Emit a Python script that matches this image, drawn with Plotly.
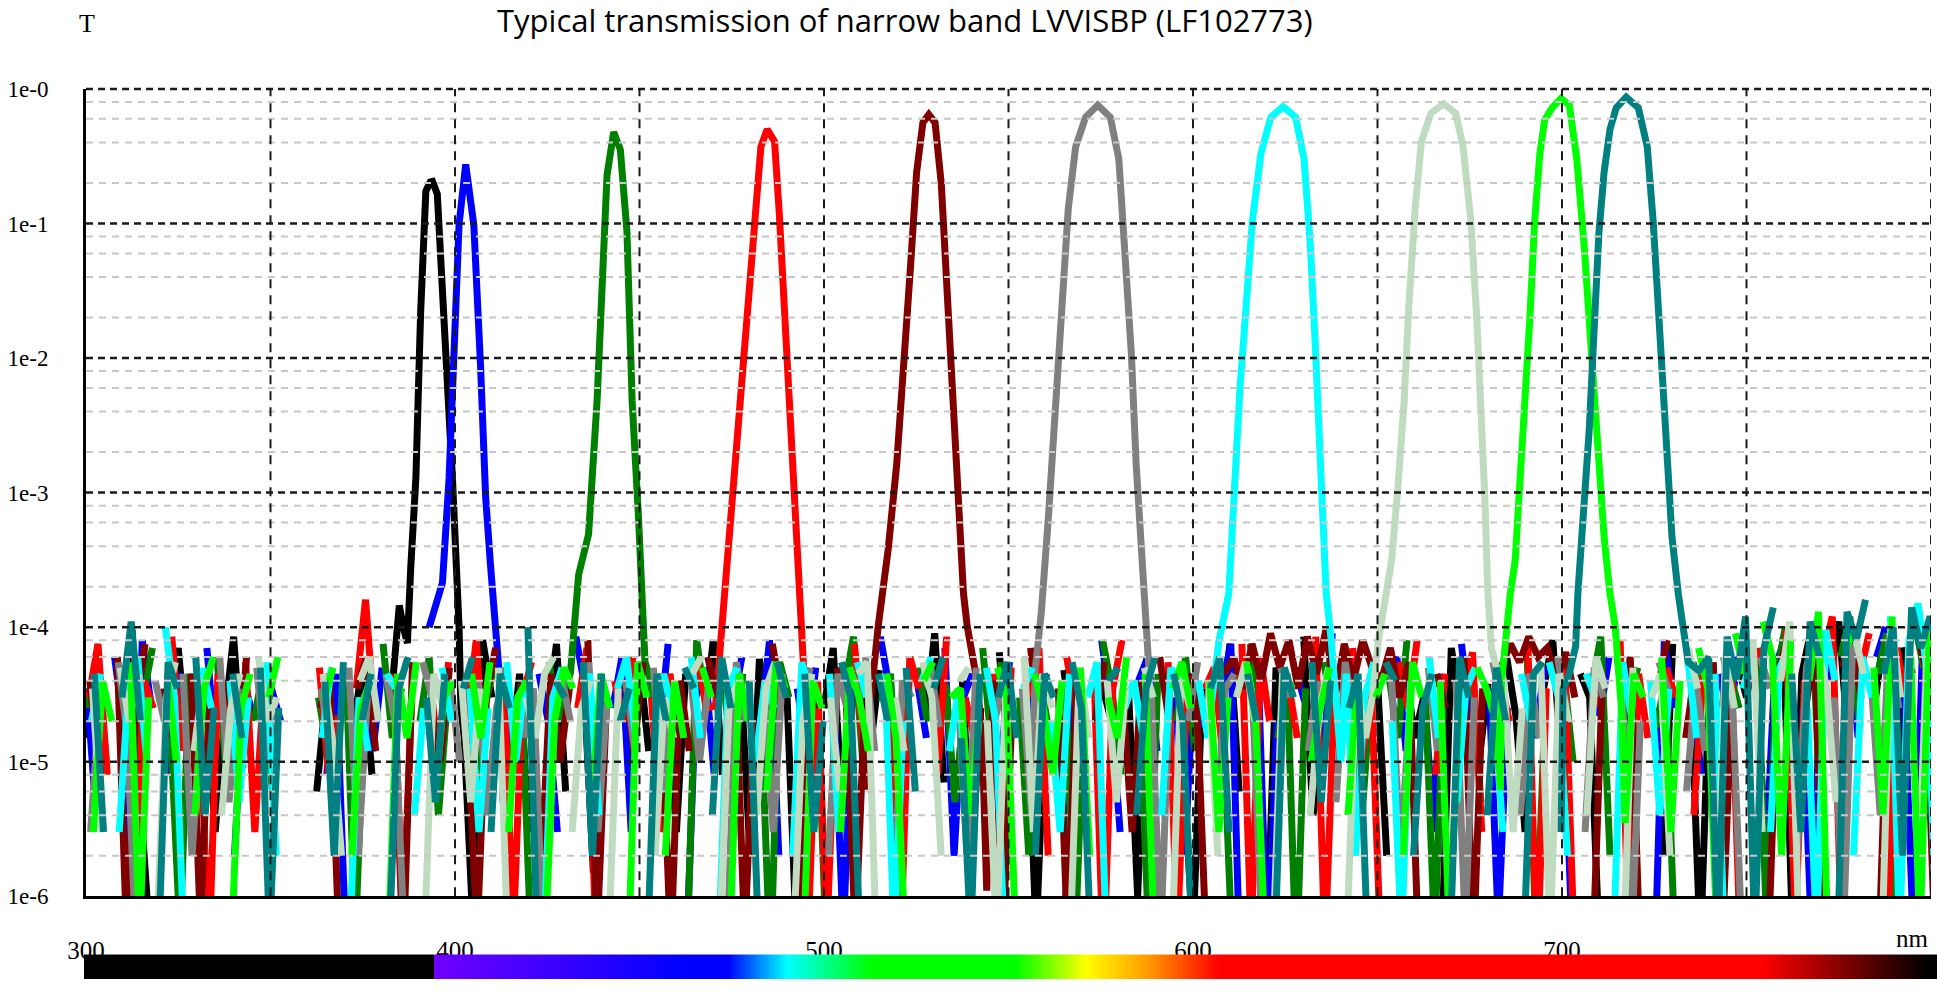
import math
import numpy as np
import plotly.graph_objects as go

N = None

# ---------------- data ----------------
SERIES_COLORS = ["#000000", "#0000ff", "#008000", "#ff0000", "#800000",
                 "#808080", "#00ffff", "#c0dcc0", "#00ff00", "#008080"]

# passband profiles (wavelength nm, transmission)
PB_WL_BLACK = [384.9, 386.0, 387.1, 388.0, 389.4, 390.7, 392.1, 393.3, 393.9, 395.2, 397.5, 399.3, 401.1, 401.6]
PB_T_BLACK = [1.45e-4, 1.0e-4, 7.6e-5, 2.75e-4, 1.29e-3, 0.0224, 0.174, 0.204, 0.206, 0.166, 0.0126, 1.29e-3, 1.0e-4, 2.5e-5]

PB_WL_BLUE = [393.0, 393.9, 395.2, 396.6, 398.4, 399.7, 401.1, 402.9, 405.1, 406.9, 408.3, 409.6, 411.0, 412.3, 413.0]
PB_T_BLUE = [1.0e-4, 1.2e-4, 1.51e-4, 2.14e-4, 1.29e-3, 9.1e-3, 0.098, 0.275, 0.098, 9.1e-3, 9.3e-4, 2.95e-4, 8.7e-5, 3.5e-5, 5e-6]

PB_WL_GREEN = [429.9, 431.3, 433.5, 436.2, 438.5, 439.8, 441.2, 443.0, 444.8, 446.6, 448.0, 449.7, 451.5]
PB_T_GREEN = [3.5e-5, 4.6e-5, 2.45e-4, 4.9e-4, 4.8e-3, 0.033, 0.229, 0.479, 0.355, 0.087, 4.8e-3, 6.8e-4, 5.5e-5]

PB_WL_RED = [470.6, 471.6, 473.9, 476.3, 478.9, 481.3, 482.9, 484.6, 486.6, 487.9, 489.9, 491.6, 493.3, 494.6]
PB_T_RED = [2.6e-5, 5.8e-5, 3.1e-4, 2.0e-3, 0.020, 0.117, 0.372, 0.501, 0.407, 0.117, 0.0107, 1.07e-3, 1.66e-4, 4.3e-5]

PB_WL_MAROON = [511.4, 512.7, 514.7, 517.4, 519.7, 521.7, 523.4, 525.1, 526.8, 528.4, 530.1, 531.8, 533.4,
                535.1, 536.8, 537.8, 538.8, 541.1, 542.8, 544.1]
PB_T_MAROON = [6.2e-6, 3.0e-5, 1.02e-4, 3.8e-4, 1.62e-3, 8.7e-3, 0.046, 0.240, 0.562, 0.646, 0.562, 0.195, 0.030,
               4.7e-3, 8.7e-4, 1.78e-4, 1.02e-4, 4.5e-5, 1.7e-5, 1.1e-6]

PB_WL_GREY = [557.2, 558.9, 560.9, 562.5, 564.2, 566.2, 568.2, 570.9, 574.2, 577.6, 579.9, 581.6, 583.3,
              584.6, 586.0, 587.0, 588.3, 588.6]
PB_T_GREY = [4.7e-5, 1.29e-4, 7.1e-4, 3.7e-3, 0.020, 0.129, 0.372, 0.617, 0.759, 0.617, 0.302, 0.069, 0.0107,
             1.62e-3, 3.8e-4, 1.02e-4, 3.3e-5, 2.8e-5]

PB_WL_CYAN = [605.0, 607.0, 609.7, 611.0, 612.7, 614.4, 616.1, 618.4, 621.1, 624.4, 627.8, 630.1, 631.8,
              633.1, 634.4, 635.2, 636.1, 637.5, 638.8, 640.1]
PB_T_CYAN = [2.7e-5, 7.8e-5, 1.78e-4, 1.07e-3, 5.8e-3, 0.0245, 0.105, 0.331, 0.617, 0.741, 0.617, 0.302, 0.069,
             0.0132, 2.45e-3, 7e-4, 1.78e-4, 7.8e-5, 2.5e-5, 1.0e-5]

PB_WL_LIGHT = [648.8, 650.2, 652.5, 653.8, 655.5, 657.2, 658.5, 660.2, 661.9, 664.5, 667.9, 671.2, 673.2,
               675.3, 676.9, 678.3, 679.1, 679.9, 680.9, 683.6, 684.0]
PB_T_LIGHT = [3.3e-5, 7.8e-5, 1.78e-4, 3.1e-4, 1.07e-3, 4.7e-3, 0.0245, 0.129, 0.407, 0.661, 0.776, 0.661, 0.372,
              0.105, 0.020, 3.7e-3, 9e-4, 1.78e-4, 6.9e-5, 3.7e-5, 2.5e-5]

PB_WL_LIME = [683.3, 683.6, 684.9, 686.0, 687.3, 688.6, 690.0, 691.3, 692.6, 694.0, 695.3, 697.3, 699.7,
              702.0, 704.0, 706.0, 708.0, 709.7, 711.4, 713.0, 714.4, 716.1, 717.1]
PB_T_LIME = [6.2e-6, 3.9e-5, 1.02e-4, 1.78e-4, 3.1e-4, 1.07e-3, 4.7e-3, 0.020, 0.105, 0.331, 0.589, 0.724, 0.851,
             0.759, 0.302, 0.069, 0.0107, 2.0e-3, 4.7e-4, 1.78e-4, 1.02e-4, 2.5e-5, 3.5e-6]

PB_WL_TEAL = [700.3, 701.7, 703.7, 704.3, 706.0, 707.4, 708.7, 710.0, 711.4, 713.0, 714.7, 717.4, 720.7,
              723.1, 724.7, 726.4, 728.1, 729.8, 731.5, 732.8, 734.2, 736.8]
PB_T_TEAL = [3.5e-5, 4.2e-5, 7.2e-5, 1.78e-4, 7.1e-4, 3.0e-3, 0.0162, 0.085, 0.240, 0.501, 0.724, 0.871, 0.724,
             0.372, 0.105, 0.0162, 2.0e-3, 4.7e-4, 1.78e-4, 1.02e-4, 5.5e-5, 4.8e-5]

# out-of-band noise floor in units of 1e-6, one value every NOISE_STEP nm from NOISE_START (+ per-series offset)
# (None = no reading; values below 1 fall under the 1e-6 floor of the axis)
NOISE_START = 300.0
NOISE_STEP = 2.5
NOISE_OFFSET = [0.0, 0.25, 0.5, 0.75, 1.0, 1.25, 1.5, 1.75, 2.0, 2.25]

NOISE_BLACK = [
    15, 40, 8, N, 30, 95, 4, 0.4, N, 25, 70, 12, N, 35, 3, 20, 85, 9, N, 28,
    45, N, N, N, N, 6, 30, 2, N, 18, 55, 8, N, 25, N, N, N, N, N, N,
    N, 15, 0.5, 80, 30, N, 10, 45, 3, N, 22, 75, 6, N, 35, 1.5, 28, N, 40, 9,
    55, 12, N, 30, 3, 45, N, 20, 80, 8, N, 38, 2, 58, 15, N, 30, 0.5, 45, N,
    25, 70, 4, N, 35, 12, 48, N, 0.6, 30, N, 20, 90, 7, N, 40, 2, 25, N, 65,
    10, N, 35, 0.5, 28, N, 48, 15, 3, N, 40, 22, N, 35, 1, 60, 20, N, 30, 8,
    0.5, 35, N, 18, 75, 6, N, 30, 0.4, 50, 25, N, 85, 4, 12, N, 45, 20, N, 28,
    40, 2, N, 55, 15, 30, N, 0.5, 70, 25, N, 10, 38, N, 60, 22, 3, N, 35, 80,
    8, N, 45, 30, 0.5, N, 60, 18, 40, N, 25, 2, 75, N, 30, 0.4, 45, 12, N, 55,
    30, 70, N, 25, 85, 0.5, 45, 95, N, 40, 110, 15, 60, N, 30, 100, 3, 70, 45, N,
    90]
NOISE_BLUE = [
    35, 4, N, 60, 18, 0.5, 80, 25, N, 8, 45, 30, N, 70, 12, N, 2, 40, 22, N,
    35, 20, N, N, N, N, 8, 45, 0.6, N, 30, 12, 50, N, 25, N, 40, N, N, N,
    N, N, N, N, N, N, 30, 6, N, 45, 20, 3, N, 85, 35, 10, N, 25, 60, 3,
    N, 40, 15, 75, N, 0.4, 30, 50, 8, N, 25, 60, N, 18, 80, 2, N, 35, 12, 50,
    N, 28, 0.5, 45, 20, N, 85, 35, 5, N, 40, 15, N, 70, 2, 30, 45, N, 20, 8,
    55, N, 30, 12, 45, N, 0.6, 38, 20, N, 80, 25, 3, N, 40, 60, 12, N, 30, 2,
    45, 18, N, 35, 75, 0.3, N, 40, 0.3, 20, N, 50, 28, N, 10, 90, N, 35, 4, 25,
    N, 40, 60, 12, N, 30, 3, 45, N, 75, 20, N, 35, 0.6, 25, N, 40, 15, 50, N,
    30, 0.5, N, 45, 22, 60, N, 12, 38, N, 0.4, 80, 25, N, 35, 8, N, 45, 20, 60,
    N, 35, 2, 50, 80, N, 25, 0.4, 70, 40, N, 90, 15, N, 60, 100, N, 30, 0.5, 80,
    40]
NOISE_GREEN = [
    25, 55, 10, N, 40, 2, 30, 70, N, 15, 0.5, 45, 25, N, 60, 8, 35, N, 20, 48,
    6, N, N, N, N, 30, 12, N, 45, 0.5, 28, N, 75, 15, 35, N, 20, 60, 4, 30,
    N, 45, 3, 25, 50, N, 12, 38, 0.5, N, 55, 20, N, N, N, N, N, N, N, N,
    N, 40, 12, 30, N, 0.5, 80, 25, N, 35, 8, 45, N, 20, 0.3, 55, 30, N, 15, 40,
    0.5, N, 35, 85, 10, N, 28, 45, 3, N, 50, 20, N, 38, 5, 25, N, 70, 12, 55,
    N, 30, 2, 48, 20, N, 40, 0.4, 25, N, 80, 35, 8, N, 30, 0.5, 45, N, 20, 60,
    12, N, 40, 25, 0.5, N, 75, 30, N, 15, 45, 0.3, 35, N, 55, 20, N, 40, 3, 28,
    N, 45, 15, 80, N, 30, 0.5, 38, N, 25, 50, 5, N, 40, 20, N, 70, 0.4, 30, N,
    45, 10, N, 35, 85, 2, N, 25, 50, N, 18, 40, 0.5, N, 55, 30, N, 12, 45, 25,
    N, 70, 0.5, 40, 100, N, 30, 85, 2, N, 60, 120, 20, N, 45, 90, 0.5, N, 110, 50,
    70]
NOISE_RED = [
    30, 75, 8, N, 50, 0.5, 40, 25, N, 85, 12, N, 35, 0.3, 45, 20, N, 55, 3, 40,
    15, N, N, N, N, 50, 8, 22, N, 35, 160, 20, N, 45, 0.5, 30, N, 40, 10, 55,
    N, 20, 80, 8, N, 45, 0.5, 30, 55, N, 12, 35, N, 25, 70, 0.4, N, 40, 20, 60,
    N, 30, 3, 45, 15, N, 55, 25, N, N, N, N, N, N, N, N, N, N, 0.6, 40,
    0.5, 30, N, 75, 12, 45, N, 25, 0.4, 60, 35, N, 8, 85, N, 30, 15, N, 45, 2,
    50, N, 30, 70, 2, N, 60, 25, N, 40, 0.3, 35, 80, N, 15, 45, N, 55, 0.5, 30,
    N, 35, 50, 10, N, 75, 0.5, 60, 20, N, 40, 15, N, 85, 0.4, 28, N, 70, 10, 40,
    0.5, N, 55, 25, 80, N, 8, 45, N, 30, 65, 3, N, 40, 20, N, 75, 0.3, 35, N,
    55, 0.5, N, 40, 25, N, 80, 0.3, 45, 15, N, 50, 30, N, 4, 45, N, 25, 60, 0.5,
    N, 70, 35, N, 95, 0.6, 40, N, 60, 120, 0.5, N, 45, 90, N, 0.5, 70, 30, N, 55,
    40]
NOISE_MAROON = [
    40, 10, N, 60, 0.5, 25, 75, N, 35, 15, N, 45, 0.6, 30, N, 40, 8, 60, N, 20,
    50, N, N, N, N, 25, 45, 0.5, N, 35, 60, 12, N, 40, 0.4, 55, N, 25, 10, 50,
    N, 15, 0.5, 30, 70, N, 20, 40, N, 2, 45, 10, 35, N, 80, 0.5, 25, N, 40, 12,
    55, N, 25, 0.4, 40, 12, N, 60, 30, N, 45, 0.5, 20, N, 75, 30, N, 0.6, 45, 25,
    N, 50, 30, 0.5, 25, N, N, N, N, N, N, N, N, N, N, N, N, N, 40, 0.5,
    25, N, 70, 15, N, 35, 0.5, 45, N, 20, 55, N, 30, 3, 40, N, 60, 20, N, 45,
    30, 0.5, N, 45, 60, 35, 75, 40, 90, 50, 80, 35, 85, 45, 95, 30, 75, 40, 80, 50,
    40, 70, 30, 55, 0.5, N, 45, 25, N, 60, 0.4, 35, N, 50, 75, 55, 85, 60, 70, 40,
    65, 30, N, 0.5, 45, N, 20, 60, 0.5, N, 35, 80, N, 15, 45, N, 55, 0.5, 30, N,
    60, N, 0.5, 45, 80, N, 25, 70, 0.5, N, 50, 90, 30, N, 0.5, 65, 40, N, 100, 50,
    0.5]
NOISE_GREY = [
    3, 30, N, 55, 15, 0.3, N, 40, 20, N, 45, 2, 25, N, 60, 5, 35, N, 50, 10,
    30, N, N, N, N, 35, 12, N, 50, 2, 30, N, 45, 20, 0.5, N, 55, 30, N, 40,
    10, N, 40, 4, 25, 50, N, 15, 35, 0.6, N, 45, 20, N, 55, 3, 30, N, 40, 12,
    N, 50, 6, 28, N, 45, 10, 38, N, 0.4, 55, 20, N, 35, 3, 45, N, 25, 50, N,
    2, 45, 25, N, 60, 12, N, 0.5, 40, 30, N, 55, 18, N, 35, 2, 50, N, 20, 45,
    N, 35, 4, N, N, N, N, N, N, N, N, N, N, N, N, 30, 0.5, 40, N, 20,
    55, N, 3, 35, 45, N, 25, 0.5, N, 50, 30, N, 12, 40, N, 5, 55, 20, N, 35,
    N, 45, 2, 25, N, 50, 12, N, 40, 0.6, 30, N, 55, 25, N, 4, 45, 15, N, 60,
    25, N, 3, 50, 30, N, 45, 0.4, 20, N, 55, 35, N, 6, 40, 12, N, 60, 25, 0.5,
    N, 60, 35, N, 85, 2, 50, 100, N, 30, 0.5, 75, N, 40, 4, 90, 25, N, 0.5, 70,
    45]
NOISE_CYAN = [
    20, 45, N, 3, 35, 60, 10, N, 100, 30, 0.5, N, 50, 25, N, 40, 5, 30, N, 55,
    2, N, N, N, N, 15, 50, N, 0.5, 30, 12, N, 45, 35, N, 4, 25, N, 50, 20,
    N, 35, 3, 25, N, 55, 10, 40, N, 0.4, 30, 50, N, 20, 45, 4, N, 35, 60, 15,
    N, 6, 45, 25, N, 60, 15, N, 0.5, 35, 50, N, 10, 40, 25, N, 2, 55, 30, N,
    45, 3, N, 55, 30, N, 45, 0.5, 20, N, 40, 60, N, 12, 35, 5, N, 50, 20, 0.4,
    N, 35, 50, N, 20, 3, 45, N, 30, 55, 0.5, N, 25, 40, 15, N, 4, 50, 35, N,
    40, 15, N, N, N, N, N, N, N, N, N, N, N, N, N, N, 45, 2, 30, 55,
    N, 20, 0.5, 40, N, 60, 15, N, 5, 35, 50, N, 25, 3, N, 45, 20, N, 55, 30,
    2, N, 45, 30, N, 0.5, 55, 20, N, 40, 4, 35, N, 60, 15, N, 45, 0.5, N, 35,
    60, N, 3, 50, 70, N, 25, 0.5, 95, 40, N, 2, 60, 30, N, 120, 0.5, 80, 150, 45,
    0.5]
NOISE_LIGHT = [
    35, 3, N, 50, 20, 45, N, 0.6, 30, 55, N, 12, 40, N, 4, 25, 45, N, 60, 20,
    30, N, N, N, N, 45, 15, 2, N, 40, 60, 20, N, 30, 55, N, 0.5, 45, 25, N,
    40, 5, 35, N, 50, 0.5, N, 30, 15, 45, 60, N, 3, 25, 40, N, 0.6, 35, N, 50,
    N, 2, 30, 15, N, 45, 60, N, 0.5, 25, 40, N, 4, 35, 55, N, 0.5, 20, 45, N,
    30, 6, N, 45, 55, 0.4, N, 30, 12, N, 55, 30, 2, N, 40, 50, N, 20, 0.5, 35,
    N, 60, 3, 45, 25, N, 0.5, 50, 15, N, 40, 5, 35, N, 50, 30, N, 0.4, 45, 25,
    N, 40, 2, N, 30, 55, 20, N, 0.5, 45, 35, N, 4, 25, 50, N, 0.6, 40, 15, 30,
    N, N, N, N, N, N, N, N, N, N, N, N, N, 40, 3, 25, N, 55, 0.5, 45,
    20, N, 4, 60, 35, N, 0.5, 50, N, 30, 45, 2, N, 70, 35, N, 0.5, 60, 25, N,
    80, 3, N, 40, 110, 0.5, N, 70, 35, 5, N, 90, 45, N, 0.5, 110, 30, N, 2, 85,
    40]
NOISE_LIME = [
    3, 40, 20, N, 55, 0.5, 30, N, 45, 10, N, 4, 35, 60, N, 0.5, 25, 45, N, 30,
    60, N, N, N, N, 30, 50, N, 2, 25, 40, N, 0.5, 45, 15, 55, N, 5, 30, 40,
    N, 45, 15, 55, N, 3, 30, 40, N, 0.5, 20, 50, 35, N, 4, 45, 25, N, 0.4, 55,
    30, N, 2, 40, 15, N, 50, 30, N, 0.5, 45, 20, N, 6, 55, 35, N, 0.5, 40, 25,
    N, 3, 50, 30, 12, N, 45, 15, 0.5, N, 40, 55, N, 30, 35, 4, 20, N, 50, 30,
    0.5, N, 45, 25, 8, 40, N, 50, 2, N, 30, 15, 60, N, 45, 0.5, N, 35, 55, 25,
    N, 40, 3, 30, N, 55, 20, 0.5, N, 45, 35, N, 10, 25, 50, N, 4, 40, N, 30,
    45, N, 2, 55, 30, N, 40, 0.5, 25, N, 50, 35, 20, N, N, N, N, N, N, N,
    N, N, N, N, N, N, 0.5, 45, 30, N, 60, 3, 40, N, 70, 35, 0.5, N, 90, 45,
    N, 110, 60, 2, 80, N, 40, 130, 0.5, N, 70, 100, N, 50, 4, 120, N, 60, 0.5, 90,
    50]
NOISE_TEAL = [
    45, 3, N, 30, 110, 20, N, 0.5, 55, 35, N, 60, 4, 25, N, 45, 15, N, 50, 0.5,
    25, N, N, N, N, 40, 2, 55, N, 20, 45, N, 0.5, 35, 60, N, 30, 5, 45, N,
    35, 60, N, 3, 45, 25, N, 100, 0.5, N, 40, 30, N, 55, 2, 45, N, 20, 35, N,
    0.5, 45, 20, N, 50, 35, N, 4, 60, 25, N, 40, 0.5, N, 55, 30, N, 45, 3, 20,
    N, 55, 30, 0.5, N, 45, 20, N, 50, 6, N, 35, 60, N, 15, 0.5, 45, N, 30, 55,
    15, N, 2, 45, 30, N, 55, 25, 0.5, N, 40, 50, N, 4, 35, 60, N, 45, 20, 0.5,
    N, 35, 60, 3, N, 45, 20, N, 0.5, 50, 30, N, 55, 5, 40, N, 25, 45, 0.5, N,
    55, 40, N, 2, 25, 45, N, 0.5, 60, 30, N, 4, 50, 20, N, 0.5, 45, 55, N, 3,
    N, N, N, N, N, N, N, N, N, N, N, N, N, N, 48, 60, 0.5, 85, 40, 120,
    0.5, 70, 140, N, 45, 3, 110, 60, N, 0.5, 130, 80, 160, N, 45, 100, 2, 140, 70, 120,
    60]

SERIES = [
    (NOISE_BLACK, PB_WL_BLACK, PB_T_BLACK),
    (NOISE_BLUE, PB_WL_BLUE, PB_T_BLUE),
    (NOISE_GREEN, PB_WL_GREEN, PB_T_GREEN),
    (NOISE_RED, PB_WL_RED, PB_T_RED),
    (NOISE_MAROON, PB_WL_MAROON, PB_T_MAROON),
    (NOISE_GREY, PB_WL_GREY, PB_T_GREY),
    (NOISE_CYAN, PB_WL_CYAN, PB_T_CYAN),
    (NOISE_LIGHT, PB_WL_LIGHT, PB_T_LIGHT),
    (NOISE_LIME, PB_WL_LIME, PB_T_LIME),
    (NOISE_TEAL, PB_WL_TEAL, PB_T_TEAL),
]

X_TICKS = [300, 350, 400, 450, 500, 550, 600, 650, 700, 750, 800]
X_TICK_TEXT = ["300", "", "400", "", "500", "", "600", "", "700", "", ""]
Y_TICKS = [1, 1e-1, 1e-2, 1e-3, 1e-4, 1e-5, 1e-6]
Y_TICK_TEXT = ["1e-0", "1e-1", "1e-2", "1e-3", "1e-4", "1e-5", "1e-6"]
Y_MINOR_MULT = [2, 4, 6, 8]

SPECTRUM_WL = [299.0, 394.0, 394.3, 462.0, 474.0, 490.0, 513.0, 552.0, 571.0, 588.0, 607.0, 754.0, 799.0, 802.0]
SPECTRUM_COLORS = ["#000000", "#000000", "#7000ff", "#0000ff", "#0000ff", "#00ffff", "#00ff00", "#00ff00",
                   "#ffff00", "#ff9900", "#ff0000", "#ff0000", "#000000", "#000000"]

TITLE = "Typical transmission of narrow band LVVISBP (LF102773)"

# ---------------- layout geometry ----------------
W, H = 1937, 992
ML, MT = 84, 89
PLOT_L, PLOT_R, PLOT_B = 86, 1931, 908
BAR_T = 967
pw = W - ML
ph = H - MT
X_DOM = [(PLOT_L - ML) / pw, (PLOT_R - ML) / pw]
Y_DOM = [(H - PLOT_B) / ph, 1.0]
px_per_nm = (PLOT_R - PLOT_L) / 500.0
X2_RANGE = [300 - (PLOT_L - ML) / px_per_nm, 800 + (W - PLOT_R) / px_per_nm]

fig = go.Figure()

for k, ((noise, pbw, pbt), color) in enumerate(zip(SERIES, SERIES_COLORS)):
    lo, hi = pbw[0], pbw[-1]
    pts = []
    for i, v in enumerate(noise):
        w = NOISE_START + NOISE_STEP * i + NOISE_OFFSET[k]
        if lo <= w <= hi:
            continue
        pts.append((w, None if v is None else v * 1e-6))
    pts += list(zip(pbw, pbt))
    pts.sort(key=lambda p: p[0])
    fig.add_trace(go.Scatter(
        x=[p[0] for p in pts], y=[p[1] for p in pts], mode="lines",
        line=dict(color=color, width=7), connectgaps=False,
        showlegend=False, hoverinfo="skip", xaxis="x", yaxis="y"))

# spectrum bar
grid = np.arange(X2_RANGE[0], X2_RANGE[1] + 0.5, 0.5)
zmin, zmax = SPECTRUM_WL[0], SPECTRUM_WL[-1]
cscale = [[(w - zmin) / (zmax - zmin), c] for w, c in zip(SPECTRUM_WL, SPECTRUM_COLORS)]
fig.add_trace(go.Heatmap(
    x=grid, y=[0, 1], z=[grid, grid], zmin=zmin, zmax=zmax, colorscale=cscale,
    showscale=False, hoverinfo="skip", xaxis="x2", yaxis="y2"))

serif = "Liberation Serif"

fig.update_layout(
    width=W, height=H,
    margin=dict(l=ML, r=0, t=MT, b=0, pad=0),
    paper_bgcolor="white", plot_bgcolor="white",
    showlegend=False,
    xaxis=dict(domain=X_DOM, range=[300, 800], anchor="y",
               tickmode="array", tickvals=X_TICKS, ticktext=X_TICK_TEXT,
               ticks="", showgrid=False, zeroline=False,
               showline=True, linecolor="black", linewidth=3,
               tickfont=dict(family=serif, size=25, color="black"),
               ticklabelstandoff=30, layer="above traces"),
    yaxis=dict(domain=Y_DOM, type="log", range=[-6, 0], anchor="x",
               tickmode="array", tickvals=Y_TICKS, ticktext=Y_TICK_TEXT,
               ticks="", showgrid=False, zeroline=False,
               showline=True, linecolor="black", linewidth=3,
               tickfont=dict(family=serif, size=23, color="black"),
               ticklabelstandoff=30, layer="above traces"),
    xaxis2=dict(domain=[0, 1], range=X2_RANGE, anchor="y2", visible=False),
    yaxis2=dict(domain=[0, (H - BAR_T) / ph], range=[-0.5, 1.5], anchor="x2", visible=False),
)

shapes = []
for e in range(-6, 0):
    for m in Y_MINOR_MULT:
        f = (math.log10(m * 10 ** e) + 6) / 6
        shapes.append(dict(type="line", xref="x domain", yref="y domain", x0=0, x1=1, y0=f, y1=f,
                           line=dict(color="#c8c8c8", width=2, dash="7px,6px"), layer="above"))
for v in Y_TICKS[:-1]:
    f = (math.log10(v) + 6) / 6
    shapes.append(dict(type="line", xref="x domain", yref="y domain", x0=0, x1=1, y0=f, y1=f,
                       line=dict(color="#1a1a1a", width=2.5, dash="7px,5px"), layer="above"))
for v in X_TICKS[1:]:
    shapes.append(dict(type="line", xref="x", yref="y domain", x0=v, x1=v, y0=0, y1=1,
                       line=dict(color="#1a1a1a", width=2, dash="9px,7px"), layer="above"))
fig.update_layout(shapes=shapes)

fig.add_annotation(text=TITLE, xref="paper", yref="paper",
                   x=(905 - ML) / pw, y=1 + (MT - 19) / ph, xanchor="center", yanchor="middle",
                   showarrow=False, font=dict(family="Open Sans", size=31, color="black"))
fig.add_annotation(text="T", xref="paper", yref="paper",
                   x=(87 - ML) / pw, y=1 + (MT - 23) / ph, xanchor="center", yanchor="middle",
                   showarrow=False, font=dict(family=serif, size=26, color="black"))
fig.add_annotation(text="nm", xref="x", yref="paper",
                   x=800, y=(H - 951) / ph, xanchor="right", yanchor="middle",
                   showarrow=False, font=dict(family=serif, size=25, color="black"))

fig.write_html("out.html",
               config={"displayModeBar": False},
               post_script="document.body.style.margin='0px';document.body.style.padding='0px';"
                           "document.documentElement.style.overflow='hidden';")
